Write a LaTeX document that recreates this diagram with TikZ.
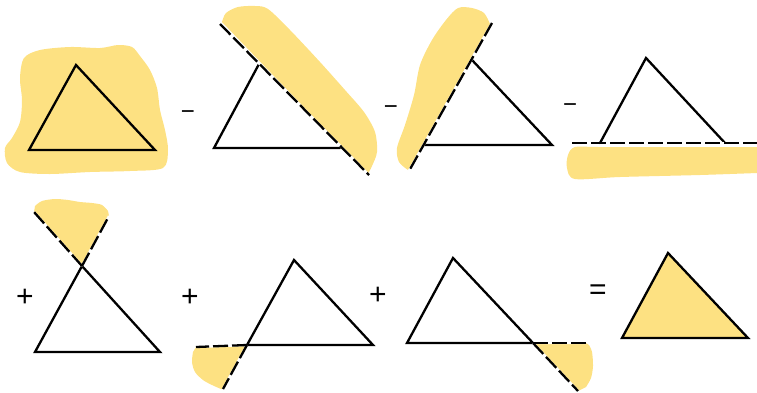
\documentclass[tikz,border=0pt]{standalone}
\usepackage{fontspec}
\setmainfont{Liberation Sans}
\definecolor{hl}{RGB}{253,225,130}
\tikzset{
  tri/.style={draw=black, line width=2.3pt, line join=miter, line cap=round},
  cut/.style={draw=black, line width=2.3pt, dash pattern=on 15pt off 4pt},
  cutbg/.style={draw=white, line width=2.3pt},
  paint/.style={fill=hl, draw=none},
  sign/.style={font=\fontsize{30}{30}\selectfont, inner sep=0pt},
  msign/.style={font=\fontsize{24}{24}\selectfont, inner sep=0pt},
}
\begin{document}
\begin{tikzpicture}[x=1pt,y=-1pt]
\useasboundingbox (0,0) rectangle (757,392);

% ---------- 1: whole painted triangle
\fill[paint] plot[smooth cycle, tension=0.5] coordinates {
 (24,58) (40,50) (70,47) (100,48) (118,45) (132,47) (140,56) (150,70) (157,88) (160,110) (165,130)
 (168,150) (163,168) (130,171) (90,172) (50,174) (20,172) (7,163) (5,148) (12,138) (20,122) (22,100) (20,78)};
\coordinate (A1) at (76,65); \coordinate (B1) at (29,150); \coordinate (C1) at (155,150);
\draw[tri] (A1) -- (B1) -- (C1) -- cycle;

\node[msign] (m1) at (188,115) {−};

% ---------- 2: right side cut
\coordinate (A2) at (259,64); \coordinate (B2) at (214,148); \coordinate (C2) at (340,148);
\coordinate (P2) at (220,24); \coordinate (Q2) at (369,175);
\fill[paint] plot[smooth, tension=0.5] coordinates {
 (222,22) (226,13) (238,7) (255,6) (268,9) (290,30) (320,62) (345,90) (364,112) (375,132) (377,152) (372,166) (368,174)} -- cycle;
\draw[tri] (A2) -- (B2) -- (C2);
\draw[cutbg] (P2) -- (Q2);
\draw[cut] (P2) -- (Q2);

\node[msign] (m2) at (391,110) {−};

% ---------- 3: left side cut
\coordinate (A3) at (472,60); \coordinate (B3) at (424,145); \coordinate (C3) at (552,145);
\coordinate (P3) at (492,23); \coordinate (Q3) at (409,171);
\fill[paint] plot[smooth, tension=0.5] coordinates {
 (490,24) (484,13) (472,8) (458,8) (446,20) (432,40) (420,65) (414,95) (405,125) (397,148) (399,162) (408,170)} -- cycle;
\draw[tri] (B3) -- (C3) -- (A3);
\draw[cutbg] (P3) -- (Q3);
\draw[cut] (P3) -- (Q3);

\node[msign] (m3) at (570,108) {−};

% ---------- 4: bottom cut
\coordinate (A4) at (646,58); \coordinate (B4) at (600,143); \coordinate (C4) at (725,143);
\coordinate (P4) at (572,143); \coordinate (Q4) at (757,143);
\fill[paint] plot[smooth, tension=0.5] coordinates {
 (757,147) (690,147) (600,147) (575,147) (568,155) (567,168) (575,179) (620,177) (700,175) (757,173)} -- cycle;
\draw[tri] (B4) -- (A4) -- (C4);
\draw[cutbg] (P4) -- (Q4);
\draw[cut] (P4) -- (Q4);

% ---------- 5: top corner added back
\node[sign] (p1) at (25,298) {+};
\coordinate (X5) at (82,266); \coordinate (B5) at (35,352); \coordinate (C5) at (160,352);
\coordinate (P5) at (34,212); \coordinate (Q5) at (109,216);
\fill[paint] (X5) -- (P5) -- plot[smooth, tension=0.5] coordinates {
 (35,206) (42,201) (55,199) (68,200) (80,202) (92,203) (102,205) (108,211)} -- (Q5) -- cycle;
\draw[tri] (X5) -- (B5) -- (C5) -- cycle;
\draw[cutbg] (X5) -- (P5) (X5) -- (Q5);
\draw[cut] (X5) -- (P5);
\draw[cut] (X5) -- (Q5);

% ---------- 6: bottom-left corner added back
\node[sign] (p2) at (190,298) {+};
\coordinate (A6) at (294,260); \coordinate (X6) at (247,345); \coordinate (C6) at (373,345);
\coordinate (P6) at (196,347); \coordinate (Q6) at (223,389);
\fill[paint] (X6) -- (P6) -- plot[smooth, tension=0.5] coordinates {
 (193,352) (192,362) (195,372) (203,380) (212,385) (221,389)} -- (Q6) -- cycle;
\draw[tri] (X6) -- (A6) -- (C6) -- (X6);
\draw[cutbg] (X6) -- (P6) (X6) -- (Q6);
\draw[cut] (X6) -- (P6);
\draw[cut] (X6) -- (Q6);

% ---------- 7: bottom-right corner added back
\node[sign] (p3) at (378,296) {+};
\coordinate (A7) at (453,258); \coordinate (B7) at (407,343); \coordinate (X7) at (533,343);
\coordinate (P7) at (586,343); \coordinate (Q7) at (578,391);
\fill[paint] (X7) -- (P7) -- plot[smooth, tension=0.5] coordinates {
 (589,345) (592,352) (593,366) (591,378) (586,387)} -- (Q7) -- cycle;
\draw[tri] (X7) -- (B7) -- (A7) -- (X7);
\draw[cutbg] (X7) -- (P7) (X7) -- (Q7);
\draw[cut] (X7) -- (P7);
\draw[cut] (X7) -- (Q7);

% ---------- 8: result
\node[sign] (eq) at (598,292) {=};
\coordinate (A8) at (668,253); \coordinate (B8) at (622,338); \coordinate (C8) at (748,338);
\draw[tri, fill=hl] (A8) -- (B8) -- (C8) -- cycle;
\end{tikzpicture}
\end{document}
